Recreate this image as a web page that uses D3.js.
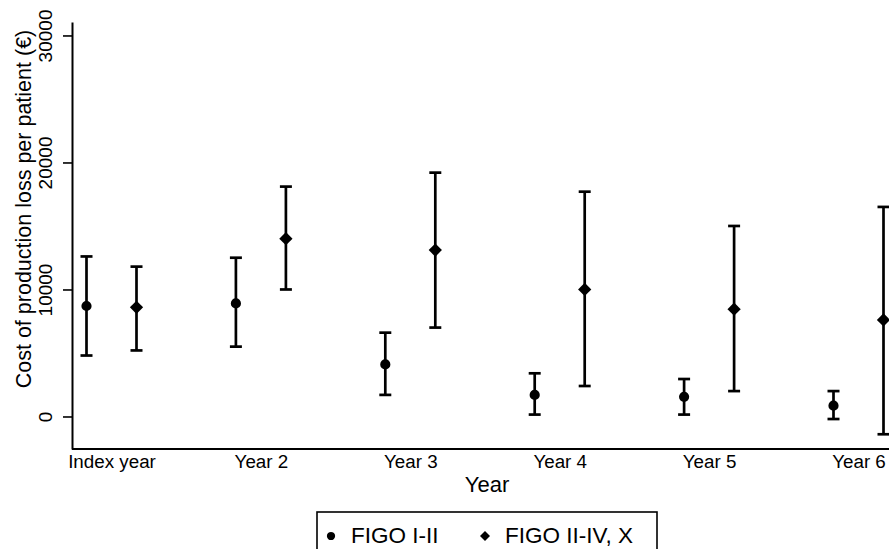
<!DOCTYPE html>
<html>
<head>
<meta charset="utf-8">
<style>
    body { margin: 0; background: #fff; }
    text { font-family: "Liberation Sans", Arial, sans-serif; fill: #000; }
</style>
</head>
<body>
<script src="https://cdn.jsdelivr.net/npm/d3@7"></script>
<script type="text/javascript">
    // values (euro per patient)
    var categories = ["Index year", "Year 2", "Year 3", "Year 4", "Year 5", "Year 6"];
    var seriesNames = ["FIGO I-II", "FIGO II-IV, X"];
    var earlyMean = [8700, 8900, 4100, 1700, 1550, 850];
    var earlyLow  = [4800, 5500, 1700, 150, 150, -200];
    var earlyHigh = [12600, 12500, 6600, 3400, 2950, 2000];
    var lateMean  = [8600, 14000, 13100, 10000, 8450, 7600];
    var lateLow   = [5200, 10000, 7000, 2400, 2000, -1400];
    var lateHigh  = [11800, 18100, 19200, 17700, 15000, 16500];
    var yTicks = [0, 10000, 20000, 30000];

    var width = 889, height = 549;

    var svg = d3.select("body").append("svg")
        .attr("width", width)
        .attr("height", height);

    var x = d3.scalePoint().domain(categories).range([111.5, 858.5]);
    var xSeries = d3.scalePoint().domain(seriesNames).range([-25, 25]);
    var y = d3.scaleLinear().domain([-2560, 31060]).range([449, 22]);

    // build rows from arrays
    var rows = [];
    categories.forEach(function (c, i) {
        rows.push({ cat: c, series: seriesNames[0], mean: earlyMean[i], lo: earlyLow[i], hi: earlyHigh[i] });
        rows.push({ cat: c, series: seriesNames[1], mean: lateMean[i], lo: lateLow[i], hi: lateHigh[i] });
    });
    function px(d) { return x(d.cat) + xSeries(d.series); }

    // y axis
    var yAxis = svg.append("g")
        .attr("transform", "translate(72,0)")
        .call(d3.axisLeft(y).tickValues(yTicks).tickSize(9).tickSizeOuter(0).tickFormat(d3.format("d")));
    yAxis.select(".domain").attr("stroke", "#000").attr("stroke-width", 2);
    yAxis.selectAll(".tick line").attr("stroke", "#000").attr("stroke-width", 1.6);
    yAxis.selectAll(".tick text")
        .attr("transform", "rotate(-90)")
        .attr("x", 0)
        .attr("y", -20)
        .attr("dy", 0)
        .attr("text-anchor", "middle")
        .style("font-size", "19px")
        .style("font-family", "'Liberation Sans', Arial, sans-serif")
        .attr("fill", "#000");

    // x axis
    svg.append("line")
        .attr("x1", 72).attr("x2", width + 5)
        .attr("y1", y(y.domain()[0])).attr("y2", y(y.domain()[0]))
        .attr("stroke", "#000").attr("stroke-width", 2);
    var xAxis = svg.append("g")
        .attr("transform", "translate(0," + y(y.domain()[0]) + ")")
        .call(d3.axisBottom(x).tickSize(0));
    xAxis.select(".domain").remove();
    xAxis.selectAll(".tick text")
        .attr("y", 19)
        .attr("dy", 0)
        .style("font-size", "18.8px")
        .style("font-family", "'Liberation Sans', Arial, sans-serif")
        .attr("fill", "#000");

    // axis titles
    svg.append("text")
        .attr("transform", "translate(31,209) rotate(-90)")
        .attr("text-anchor", "middle")
        .style("font-size", "21.5px")
        .text("Cost of production loss per patient (€)");
    svg.append("text")
        .attr("x", 487).attr("y", 492)
        .attr("text-anchor", "middle")
        .style("font-size", "22px")
        .text("Year");

    // error bars
    var bars = svg.append("g");
    bars.selectAll("line.v").data(rows).enter().append("line")
        .attr("x1", px).attr("x2", px)
        .attr("y1", function (d) { return y(d.lo); })
        .attr("y2", function (d) { return y(d.hi); })
        .attr("stroke", "#000").attr("stroke-width", 2.7);
    ["lo", "hi"].forEach(function (k) {
        bars.selectAll("line.c" + k).data(rows).enter().append("line")
            .attr("x1", function (d) { return px(d) - 6; })
            .attr("x2", function (d) { return px(d) + 6; })
            .attr("y1", function (d) { return y(d[k]); })
            .attr("y2", function (d) { return y(d[k]); })
            .attr("stroke", "#000").attr("stroke-width", 2.7);
    });

    // markers
    var circleSym = d3.symbol().type(d3.symbolCircle).size(Math.PI * 26);
    var diamondSym = d3.symbol().type(d3.symbolSquare).size(88);
    svg.append("g").selectAll("path").data(rows).enter().append("path")
        .attr("d", function (d) { return d.series === seriesNames[0] ? circleSym() : diamondSym(); })
        .attr("transform", function (d) {
            return "translate(" + px(d) + "," + y(d.mean) + ")" + (d.series === seriesNames[0] ? "" : " rotate(45)");
        })
        .attr("fill", "#000");

    // legend
    var legend = svg.append("g");
    legend.append("rect")
        .attr("x", 317).attr("y", 512)
        .attr("width", 340).attr("height", 60)
        .attr("fill", "#fff").attr("stroke", "#000").attr("stroke-width", 1.6);
    var legX = [331, 485];
    seriesNames.forEach(function (s, i) {
        legend.append("path")
            .attr("d", i === 0 ? d3.symbol().type(d3.symbolCircle).size(Math.PI * 17)() : d3.symbol().type(d3.symbolSquare).size(50)())
            .attr("transform", "translate(" + legX[i] + ",536)" + (i === 0 ? "" : " rotate(45)"))
            .attr("fill", "#000");
        legend.append("text")
            .attr("x", legX[i] + 20).attr("y", 543)
            .style("font-size", "22.5px")
            .text(s);
    });
</script>
</body>
</html>
